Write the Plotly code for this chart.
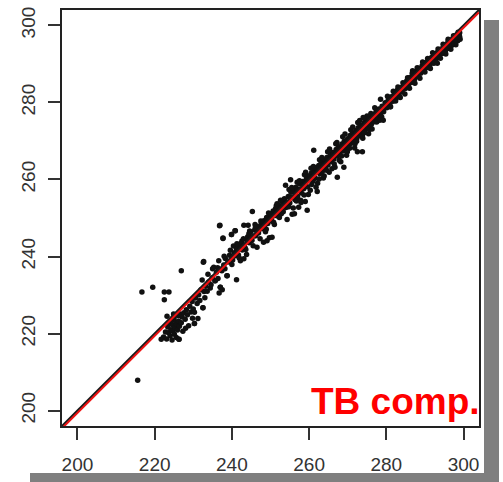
import plotly.graph_objects as go

# Brightness temperature: reference (x) vs. computed (y), in K
low_cluster = [
    (222.3, 219.1), (222.8, 220.4), (223.1, 218.6), (223.4, 221.7), (223.6, 220.2),
    (223.9, 222.5), (224.0, 219.4), (224.2, 221.0), (224.4, 223.3), (224.6, 220.7),
    (224.8, 222.1), (225.0, 224.0), (225.1, 219.8), (225.3, 221.6), (225.5, 223.0),
    (225.7, 222.4), (225.9, 220.9), (226.1, 224.6), (226.2, 223.2), (226.4, 221.9),
    (226.6, 225.1), (226.9, 222.8), (227.1, 224.3), (227.3, 220.6), (227.6, 225.4),
    (227.9, 223.7), (228.2, 226.2), (228.5, 224.9), (228.8, 222.0), (229.1, 227.1),
    (229.4, 225.6), (229.7, 228.3), (230.0, 226.4), (230.3, 222.6), (230.3, 225.5),
    (230.6, 229.2), (231.0, 227.8), (231.4, 230.1), (231.7, 228.6), (232.0, 231.4),
    (232.5, 226.7), (232.8, 230.9), (233.2, 232.3), (233.6, 231.0), (234.0, 233.4),
    (234.4, 231.8), (234.9, 234.5), (235.3, 237.2), (235.6, 233.7), (236.0, 235.9),
    (236.3, 237.1), (236.7, 230.5), (237.0, 232.0), (237.2, 236.6), (237.5, 231.4),
    (237.9, 237.8), (238.3, 239.5), (238.7, 235.0), (239.0, 238.6), (239.4, 240.3),
    (239.9, 245.7), (224.5, 218.3), (225.6, 219.0), (226.3, 218.5), (224.9, 225.1),
    (223.2, 224.5), (228.0, 221.4), (229.8, 224.0), (231.2, 223.9), (233.0, 229.3),
    (233.8, 235.4), (235.0, 236.8), (236.6, 238.9), (238.0, 240.1), (239.6, 241.6),
    (240.4, 242.7), (242.6, 244.0), (244.6, 246.6), (234.6, 232.7), (236.4, 234.3),
    (238.2, 236.8), (240.0, 237.9), (241.7, 240.4), (243.6, 241.8),
]

band_a = [
    (240.2, 239.1), (240.6, 241.0), (241.0, 240.2), (241.5, 242.2), (241.9, 239.6),
    (242.3, 243.4), (242.7, 241.7), (243.0, 244.6), (243.4, 242.3), (243.8, 240.5),
    (244.1, 245.1), (244.5, 243.6), (244.8, 246.3), (245.2, 244.2), (245.5, 242.8),
    (245.9, 246.9), (246.2, 245.4), (246.6, 247.8), (246.9, 246.1), (247.3, 244.6),
    (247.6, 248.5), (248.0, 247.2), (248.3, 249.3), (248.7, 246.4), (249.0, 250.1),
    (249.3, 248.6), (249.7, 244.9), (250.0, 250.9), (250.3, 249.2), (250.7, 251.8),
    (251.0, 248.3), (251.3, 252.4), (251.6, 250.6), (252.0, 253.3), (252.3, 250.1),
    (252.6, 252.9), (253.0, 254.2), (253.3, 251.6), (253.6, 255.0), (254.0, 252.7),
    (254.3, 249.6), (254.6, 255.6), (255.0, 253.9), (255.3, 256.7), (255.6, 251.0),
    (256.0, 257.1), (256.3, 254.8), (256.6, 258.0), (257.0, 255.6), (257.3, 252.8),
    (257.6, 258.9), (258.0, 256.5), (258.3, 259.5), (258.6, 257.6), (259.0, 254.3),
    (259.3, 260.2), (259.6, 258.1), (260.0, 261.0), (260.3, 257.2), (260.6, 261.7),
    (261.0, 259.6), (261.3, 262.4), (261.6, 260.3), (261.9, 263.1), (262.2, 259.0),
    (262.5, 263.6), (262.8, 261.5), (263.1, 264.2), (263.4, 262.0), (263.7, 260.4),
    (264.0, 265.0), (264.3, 263.1), (264.6, 265.7), (264.9, 263.8), (265.2, 261.9),
    (265.5, 266.5), (265.8, 264.7), (266.1, 267.0), (266.4, 265.3), (266.7, 263.2),
    (267.0, 267.8), (267.3, 266.1), (267.6, 268.5), (267.9, 266.6), (268.2, 264.6),
    (268.5, 269.2), (268.8, 267.4), (269.1, 269.9), (269.4, 268.0), (269.7, 266.3),
    (270.0, 270.6), (270.3, 268.9), (270.6, 271.4), (270.9, 269.4), (271.2, 272.0),
    (271.5, 270.0), (271.8, 268.2), (272.1, 272.7), (272.4, 270.8), (272.7, 273.4),
    (273.0, 271.4), (273.3, 274.1), (273.6, 272.0), (273.9, 270.7), (274.2, 274.6),
    (274.5, 272.9), (274.8, 275.3), (275.1, 273.4), (275.4, 271.9), (275.8, 276.0),
    (276.1, 274.3), (276.5, 276.8), (276.9, 275.0), (277.3, 277.5), (277.7, 275.8),
    (278.1, 278.3), (278.5, 276.7), (278.9, 279.0), (279.3, 277.6), (279.7, 279.9),
    (280.1, 278.6), (280.5, 280.7), (280.9, 279.4), (281.3, 281.5), (281.7, 280.3),
    (282.1, 282.3), (282.5, 281.0), (282.9, 283.2), (283.3, 281.9), (283.7, 283.9),
    (284.1, 282.8), (284.5, 284.7), (284.9, 283.6), (285.3, 285.6), (285.7, 284.4),
    (286.1, 286.5), (286.5, 285.2), (286.9, 287.3), (287.3, 286.0), (287.7, 288.1),
    (288.1, 286.8), (288.5, 288.9), (288.9, 287.6), (289.3, 289.6), (289.7, 288.4),
    (290.1, 290.3), (290.5, 289.1), (290.9, 291.0), (291.3, 289.8), (291.7, 291.7),
    (292.1, 290.6), (292.5, 292.4), (292.9, 291.3), (293.3, 293.1), (293.7, 292.0),
    (294.1, 293.8), (294.5, 292.7), (294.9, 294.4), (295.3, 293.4), (295.7, 295.0),
    (296.1, 294.1), (296.5, 295.6), (296.9, 294.8), (297.3, 296.2), (297.7, 295.4),
    (298.1, 296.8), (298.5, 296.0), (298.9, 297.3),
]

band_b = [
    (241.2, 241.8), (242.0, 242.6), (243.2, 243.0), (244.0, 243.9), (244.9, 245.0),
    (245.7, 245.3), (246.4, 246.9), (247.1, 247.0), (247.8, 248.0), (248.5, 248.2),
    (249.1, 249.4), (249.8, 249.7), (250.5, 250.4), (251.1, 251.2), (251.8, 251.5),
    (252.4, 252.6), (253.1, 252.8), (253.8, 253.9), (254.4, 254.1), (255.1, 255.3),
    (255.7, 255.4), (256.4, 256.5), (257.0, 257.3), (257.7, 257.5), (258.3, 258.6),
    (258.9, 258.8), (259.5, 259.7), (260.2, 260.1), (260.8, 260.6), (261.4, 261.6),
    (262.0, 261.8), (262.6, 262.7), (263.2, 262.9), (263.8, 263.9), (264.4, 264.1),
    (265.0, 265.2), (265.6, 265.3), (266.2, 266.4), (266.8, 266.5), (267.4, 267.4),
    (268.0, 267.8), (268.6, 268.7), (269.2, 268.8), (269.8, 269.9), (270.4, 270.0),
    (271.0, 271.0), (271.6, 271.2), (272.2, 272.2), (272.8, 272.1), (273.4, 273.3),
    (274.0, 273.2), (274.6, 274.4), (275.2, 274.5), (275.9, 275.6), (276.6, 275.9),
    (277.2, 276.8), (277.9, 277.3), (278.6, 278.1), (279.2, 278.3), (279.9, 279.2),
    (280.6, 279.8), (281.2, 280.7), (281.9, 281.2), (282.6, 282.0), (283.2, 282.6),
    (283.9, 283.4), (284.6, 284.0), (285.2, 284.9), (285.9, 285.3), (286.6, 286.1),
    (287.2, 286.7), (287.9, 287.4), (288.6, 288.0), (289.2, 288.9), (289.9, 289.4),
    (290.6, 290.0), (291.2, 290.6), (291.9, 291.4), (292.6, 292.0), (293.2, 292.7),
    (293.9, 293.3), (294.6, 294.0), (295.2, 294.6), (295.9, 295.3), (296.6, 295.9),
    (297.2, 296.5), (297.9, 297.1), (298.6, 297.6), (299.0, 298.1),
    (254.8, 257.4), (256.9, 259.3), (258.8, 261.2), (260.5, 262.9), (262.7, 265.1),
    (264.8, 267.2), (266.9, 269.3), (268.7, 271.1), (270.8, 272.9), (272.6, 274.8),
    (255.9, 252.6), (257.9, 254.0), (259.8, 256.1), (261.8, 258.0), (263.9, 260.9),
    (265.9, 262.8), (267.8, 265.0), (269.9, 267.2), (271.9, 269.3), (273.8, 271.3),
    (275.6, 273.0), (277.5, 274.9),
]

band_c = [
    (280.3, 281.6), (281.0, 278.9), (281.8, 282.9), (282.4, 280.4), (283.0, 284.0),
    (283.6, 281.3), (284.3, 285.1), (284.8, 282.2), (285.5, 286.4), (286.0, 283.7),
    (286.8, 288.2), (287.4, 285.0), (288.0, 289.0), (288.7, 286.3), (289.4, 290.5),
    (290.0, 287.9), (290.7, 291.4), (291.4, 288.8), (292.0, 292.9), (292.7, 290.5),
    (293.4, 293.9), (294.0, 291.5), (294.7, 295.1), (295.4, 292.6), (296.0, 296.4),
    (296.7, 293.8), (297.4, 297.3), (298.0, 295.0), (298.6, 298.2), (299.1, 296.4),
    (297.0, 295.1), (295.8, 294.2), (294.4, 293.1), (293.0, 292.4), (291.6, 290.9),
    (290.3, 289.7), (289.0, 288.3), (287.6, 287.1), (286.3, 285.5), (285.0, 284.3),
    (283.5, 283.0), (282.2, 281.6), (280.8, 280.2), (277.0, 278.6), (276.0, 277.1),
    (275.0, 276.5), (274.2, 275.9), (276.3, 273.1), (278.8, 276.2), (296.3, 294.8),
    (297.8, 296.3), (298.3, 297.0), (299.0, 297.0), (296.0, 295.8),
    (246.0, 248.3), (247.5, 249.2), (249.5, 251.3), (251.5, 253.2), (253.5, 253.6),
    (255.5, 257.9), (257.5, 259.7), (259.1, 261.9), (261.1, 263.4), (263.3, 265.7),
    (265.3, 267.9), (267.2, 269.6), (269.3, 271.8), (271.3, 273.6), (273.1, 275.3),
    (248.9, 247.1), (250.8, 248.9), (252.8, 251.1), (254.7, 252.9), (256.7, 254.4),
    (258.7, 256.0), (260.7, 258.7), (262.6, 260.1), (264.5, 262.4), (266.5, 264.0),
    (268.4, 266.1), (270.5, 268.1), (272.3, 269.9), (274.3, 272.1),
]

outliers = [
    (215.6, 207.9), (216.7, 230.8), (219.5, 232.0), (222.5, 230.8), (223.7, 230.8),
    (222.5, 228.8), (226.9, 236.3), (232.6, 238.5), (236.8, 248.0), (237.7, 244.7),
    (240.8, 246.7), (245.3, 251.7), (241.2, 234.0), (221.7, 218.5), (226.3, 218.5),
    (230.3, 222.6), (232.5, 226.7), (261.2, 267.6), (256.2, 251.1), (262.1, 256.9),
    (273.8, 267.2), (278.5, 280.8), (278.3, 275.4), (292.3, 290.2), (236.9, 248.1),
    (243.1, 248.1), (244.2, 248.1), (240.9, 246.7), (239.9, 245.7), (237.7, 244.8),
    (251.7, 253.7), (244.4, 245.9), (241.3, 243.3), (245.0, 244.1), (248.2, 243.7),
    (249.1, 244.1), (250.4, 245.0), (242.2, 238.9), (243.1, 239.4), (232.7, 238.7),
    (237.4, 236.3), (238.8, 235.0), (232.3, 233.9), (235.7, 233.7), (237.0, 232.0),
    (246.5, 242.4), (246.1, 247.6), (255.2, 259.9), (253.9, 258.5), (272.5, 267.2),
    (272.0, 271.1), (267.3, 260.6), (269.0, 263.2), (257.8, 254.6), (259.5, 252.0),
    (252.6, 254.6), (250.0, 251.1), (274.0, 276.1), (279.2, 275.4), (281.1, 278.9),
    (293.2, 290.2), (286.7, 287.6),
]

# Reference 1:1 line and fitted regression line (intercept, slope)
identity_line = (0.0, 1.0)
fit_line = (-0.6, 1.0)

axis_range = [196, 304]
tick_values = [200, 220, 240, 260, 280, 300]

points = low_cluster + band_a + band_b + band_c + outliers
px = [p[0] for p in points]
py = [p[1] for p in points]

fig = go.Figure()
fig.add_trace(go.Scatter(
    x=px, y=py, mode="markers",
    marker=dict(color="#111111", size=5.5, line=dict(width=0)),
    hoverinfo="x+y",
))

for (b0, b1), colour, w in ((identity_line, "#1a1a1a", 2.2), (fit_line, "#ee1111", 2.0)):
    fig.add_trace(go.Scatter(
        x=axis_range, y=[b0 + b1 * v for v in axis_range], mode="lines",
        line=dict(color=colour, width=w), hoverinfo="skip",
    ))

L, R, T, B = 62, 479, 10, 426
W, H = 503, 482
pw, ph = R - L, B - T


def to_px(x, y):
    return (x - L) / pw, (B - y) / ph


shadow_boxes = [(484, 20, 499, 482), (30, 473, 499, 482)]
shapes = []
for x0, y0, x1, y1 in shadow_boxes:
    a0, b0 = to_px(x0, y1)
    a1, b1 = to_px(x1, y0)
    shapes.append(dict(type="rect", xref="paper", yref="paper",
                       x0=a0, y0=b0, x1=a1, y1=b1,
                       fillcolor="#7f7f7f", line=dict(width=0), layer="below"))

axis_common = dict(
    range=axis_range, tickvals=tick_values, ticks="outside", ticklen=12,
    tickwidth=1.5, tickcolor="#333333", showgrid=False, zeroline=False,
    showline=True, linecolor="#222222", linewidth=2, mirror=True,
    automargin=False,
    tickfont=dict(family="Liberation Sans, Arial, sans-serif", size=19, color="#333333"),
)

fig.update_layout(
    width=W, height=H,
    margin=dict(l=L, r=W - R, t=T, b=H - B),
    paper_bgcolor="#ffffff", plot_bgcolor="#ffffff",
    showlegend=False,
    shapes=shapes,
    xaxis=dict(**axis_common, ticklabelstandoff=8),
    yaxis=dict(**axis_common, tickangle=-90, ticklabelstandoff=5),
    annotations=[dict(
        text="<b>TB comp.</b>", xref="paper", yref="paper",
        x=to_px(482, 0)[0], y=to_px(0, 401)[1], xanchor="right", yanchor="middle",
        showarrow=False,
        font=dict(family="Liberation Sans, Arial, sans-serif", size=37, color="#ff0000"),
    )],
)

fig.write_html("out.html")
